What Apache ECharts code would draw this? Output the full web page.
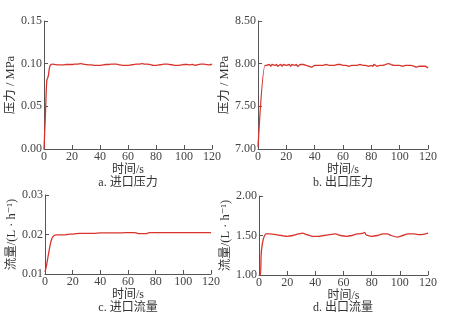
<!DOCTYPE html>
<html><head><meta charset="utf-8">
<script src="https://cdn.jsdelivr.net/npm/echarts@6/dist/echarts.min.js"></script>
<style>html,body{margin:0;padding:0;background:#fff}#c{width:453px;height:321px}</style>
</head><body><div id="c"></div>
<script>
// a. inlet pressure (MPa)
const timeA = [0,1,2,3,4,5,6,8,10,12,14,16,18,20,22,24,26,28,30,32,34,36,38,40,42,44,46,48,50,52,54,56,58,60,62,64,66,68,70,72,74,76,78,80,82,84,86,88,90,92,94,96,98,100,102,104,106,108,110,112,114,116,118,120];
const valA  = [0,0.04,0.08,0.085,0.096,0.099,0.0995,0.099,0.0985,0.0985,0.0985,0.099,0.099,0.099,0.0995,0.0995,0.1,0.0995,0.099,0.0985,0.0985,0.098,0.098,0.098,0.0985,0.099,0.099,0.0995,0.0995,0.0995,0.0985,0.098,0.098,0.098,0.0985,0.099,0.0995,0.0995,0.1,0.0995,0.0995,0.099,0.098,0.098,0.0985,0.099,0.0995,0.0995,0.099,0.0985,0.098,0.098,0.0985,0.099,0.099,0.0985,0.099,0.098,0.099,0.0995,0.0995,0.099,0.0985,0.0995];
// b. outlet pressure (MPa)
const timeB = [0,5,6,8,9,10,12,13,14,16,17,18,20,22,23,24,26,27,28,30,32,34,36,38,40,42,44,46,48,50,52,54,56,58,60,62,64,66,68,70,72,74,76,78,80,81,82,84,86,88,90,92,94,96,98,100,102,104,106,108,110,112,114,116,118,120];
const valB  = [7.02,7.98,7.98,7.99,7.97,7.99,7.98,7.99,7.97,7.99,7.97,7.99,7.98,7.99,7.97,7.99,7.98,7.99,7.97,7.99,7.99,7.98,7.97,7.96,7.98,7.98,7.98,7.98,7.99,7.98,7.98,7.98,7.99,7.99,7.98,7.98,7.97,7.98,7.98,7.98,7.99,7.98,7.98,7.97,7.98,7.97,7.99,7.97,7.98,7.98,7.99,8.0,7.99,7.98,7.98,7.98,7.97,7.98,7.98,7.98,7.97,7.96,7.97,7.97,7.97,7.95];
// c. inlet flow (L/h)
const timeC = [0,1,2,3,4,5,6,7,8,10,12,14,16,18,20,22,25,30,35,40,45,50,55,60,64,66,68,70,72,74,76,80,85,90,95,100,105,110,115,120];
const valC  = [0.0105,0.012,0.014,0.016,0.0178,0.019,0.0196,0.0198,0.0199,0.0199,0.0199,0.0199,0.02,0.0201,0.0201,0.0202,0.0203,0.0203,0.0203,0.0204,0.0204,0.0204,0.0204,0.0205,0.0205,0.0204,0.0202,0.0202,0.0202,0.0203,0.0205,0.0205,0.0205,0.0205,0.0205,0.0205,0.0205,0.0205,0.0205,0.0205];
// d. outlet flow (L/h)
const timeD = [0,1,1.5,2,3,4,5,8,12,16,20,24,28,31,34,38,42,46,50,54,58,62,66,70,74,75,76,80,84,88,91,94,98,102,106,110,114,118,120];
const valD  = [1.0,1.0,1.25,1.35,1.45,1.5,1.52,1.52,1.51,1.5,1.49,1.5,1.52,1.53,1.51,1.49,1.49,1.5,1.51,1.52,1.5,1.49,1.5,1.52,1.53,1.54,1.51,1.49,1.5,1.52,1.52,1.5,1.48,1.5,1.52,1.52,1.51,1.52,1.53];

const xTicks = {min:0, max:120, interval:20};
const yRanges = [
  {min:0, max:0.15, interval:0.05},
  {min:7.0, max:8.5, interval:0.5},
  {min:0.01, max:0.03, interval:0.01},
  {min:1.0, max:2.0, interval:0.5}
];
const yNames = ['压力 / MPa','压力 / MPa','流量/(L · h⁻¹)','流量/(L · h⁻¹)'];
const captions = ['a. 进口压力','b. 出口压力','c. 进口流量','d. 出口流量'];
const xName = '时间/s';

const serif = '"Liberation Serif","DejaVu Serif","Noto Sans CJK SC",serif';
const axisColor = '#555';
const grids = [
  {left:44, top:21, width:168, height:128},
  {left:258, top:21, width:170, height:128},
  {left:45, top:195, width:166, height:79},
  {left:259, top:196, width:169, height:79}
];
const captionPos = [
  {x:128, y:177},{x:343, y:177},{x:128, y:302},{x:343, y:302}
];
const yNameGaps = [27, 24, 25, 24];
const pairs = [[timeA,valA],[timeB,valB],[timeC,valC],[timeD,valD]];

const option = {
  animation:false,
  backgroundColor:'#fff',
  grid: grids,
  title: captions.map((t,i)=>({text:t, left:captionPos[i].x, top:captionPos[i].y, textAlign:'center', padding:0,
     textStyle:{fontSize:12, fontWeight:'normal', color:'#333', fontFamily:serif}})),
  xAxis: grids.map((g,i)=>({type:'value', gridIndex:i, min:xTicks.min, max:xTicks.max, interval:xTicks.interval,
     name:xName, nameLocation:'middle', nameGap: 12, nameTextStyle:{fontSize:12, color:'#333', fontFamily:serif},
     axisLine:{lineStyle:{color:axisColor, width:1}}, axisTick:{inside:true, length:4, lineStyle:{color:axisColor}},
     axisLabel:{fontSize:12, color:'#444', fontFamily:serif, margin:2}, splitLine:{show:false}})),
  yAxis: grids.map((g,i)=>({type:'value', gridIndex:i, min:yRanges[i].min, max:yRanges[i].max, interval:yRanges[i].interval,
     name:yNames[i], nameLocation:'middle', nameGap: yNameGaps[i], nameTextStyle:{fontSize:12.5, color:'#333', fontFamily:serif},
     axisLine:{show:true, lineStyle:{color:axisColor, width:1}}, axisTick:{show:true, inside:true, length:4, lineStyle:{color:axisColor}},
     axisLabel:{fontSize:12, color:'#444', fontFamily:serif, margin:2, formatter:v=>v.toFixed(2)}, splitLine:{show:false}})),
  series: pairs.map((p,i)=>({type:'line', xAxisIndex:i, yAxisIndex:i, showSymbol:false, symbol:'none', smooth:0.3,
     data:p[0].map((t,k)=>[t,p[1][k]]), lineStyle:{color:'#d8342c', width:1.3}}))
};
echarts.init(document.getElementById('c')).setOption(option);
</script></body></html>
